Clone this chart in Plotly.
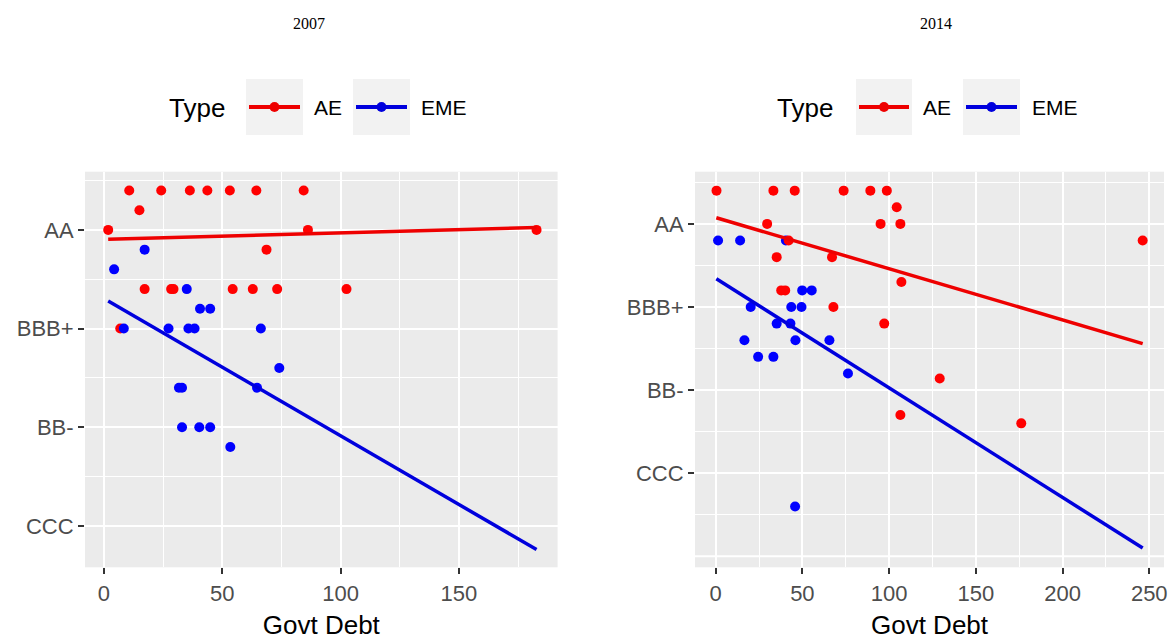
import plotly.graph_objects as go

# ---------------- data (rating notches: AAA=1, AA+=2, AA=3, ... ) ----------------
rating_tickvals = [3, 8, 13, 18]
rating_ticktext = ["AA", "BBB+", "BB-", "CCC"]
panel_titles = ["2007", "2014"]
type_names = ["AE", "EME"]

# 2007 panel
ae07_debt = [1.8, 10.7, 24.2, 36.3, 43.7, 53.2, 64.4, 84.4, 15.0, 86.2, 182.8, 68.7,
             17.2, 28.4, 29.4, 54.4, 62.9, 73.2, 102.5, 6.9]
ae07_rating = [3, 1, 1, 1, 1, 1, 1, 1, 2, 3, 3, 4,
               6, 6, 6, 6, 6, 6, 6, 8]
eme07_debt = [17.2, 4.3, 35.0, 40.6, 44.9, 8.4, 27.3, 35.7, 38.3, 66.3,
              74.1, 31.7, 33.0, 64.7, 33.0, 40.3, 44.9, 53.4]
eme07_rating = [4, 5, 6, 7, 7, 8, 8, 8, 8, 8,
                10, 11, 11, 11, 13, 13, 13, 14]
ae07_fit_debt = [1.8, 182.8]
ae07_fit_rating = [3.47, 2.88]
eme07_fit_debt = [1.8, 182.8]
eme07_fit_rating = [6.6, 19.2]

# 2014 panel
ae14_debt = [0.5, 33.3, 45.6, 73.8, 89.2, 98.7, 29.7, 42.1, 35.2, 67.1, 37.8, 40.1,
             67.9, 104.4, 95.1, 106.5, 246.2, 107.1, 97.2, 129.2, 106.5, 176.2]
ae14_rating = [1, 1, 1, 1, 1, 1, 3, 4, 5, 5, 7, 7,
               8, 2, 3, 3, 4, 6.5, 9, 12.3, 14.5, 15]
eme14_debt = [1.4, 14.1, 40.5, 49.9, 55.4, 20.2, 43.6, 49.5, 35.2, 43.1,
              16.6, 46.0, 65.6, 24.5, 33.3, 76.3, 45.8]
eme14_rating = [4, 4, 4, 7, 7, 8, 8, 8, 9, 9,
                10, 10, 10, 11, 11, 12, 20]
ae14_fit_debt = [0.4, 246.2]
ae14_fit_rating = [2.63, 10.2]
eme14_fit_debt = [0.4, 246.2]
eme14_fit_rating = [6.3, 22.5]

# ---------------- layout constants ----------------
W, H = 1169, 640
PANEL_TOP, PANEL_BOTTOM = 171.7, 567.3
LEFT_X = (85, 557.6)
RIGHT_X = (695, 1164)
RED_PT, BLUE_PT = "#FF0000", "#0000FF"
RED_LN, BLUE_LN = "#EE0000", "#0000DD"
FONT = "Liberation Sans, Arial, sans-serif"


def fx(x):
    return x / W


def fy(y):
    return 1 - y / H


fig = go.Figure()


def add_panel(ae_x, ae_y, eme_x, eme_y, aefx, aefy, emefx, emefy, xa, ya, blue_first):
    pts = [(eme_x, eme_y, BLUE_PT, "EME"), (ae_x, ae_y, RED_PT, "AE")]
    if not blue_first:
        pts = pts[::-1]
    for xs, ys, col, nm in pts:
        fig.add_trace(go.Scatter(x=xs, y=ys, mode="markers", name=nm, showlegend=False,
                                 marker=dict(size=10, color=col, line=dict(width=0)),
                                 xaxis=xa, yaxis=ya))
    for xs, ys, col, nm in [(aefx, aefy, RED_LN, "AE"), (emefx, emefy, BLUE_LN, "EME")]:
        fig.add_trace(go.Scatter(x=xs, y=ys, mode="lines", name=nm, showlegend=False,
                                 line=dict(color=col, width=3.5),
                                 xaxis=xa, yaxis=ya))


add_panel(ae07_debt, ae07_rating, eme07_debt, eme07_rating,
          ae07_fit_debt, ae07_fit_rating, eme07_fit_debt, eme07_fit_rating, "x", "y", False)
add_panel(ae14_debt, ae14_rating, eme14_debt, eme14_rating,
          ae14_fit_debt, ae14_fit_rating, eme14_fit_debt, eme14_fit_rating, "x2", "y2", True)

common_x = dict(
    showgrid=True, gridcolor="white", gridwidth=2, zeroline=False, showline=False,
    ticks="outside", ticklen=6, tickwidth=1.5, tickcolor="#333333",
    tickfont=dict(family=FONT, size=22, color="#4D4D4D"),
    tick0=0, dtick=50,
    minor=dict(dtick=25, tick0=0, showgrid=True, gridcolor="white", gridwidth=1),
    title=dict(text="Govt Debt", font=dict(family=FONT, size=26, color="black"), standoff=14),
    automargin=False,
)
common_y = dict(
    showgrid=True, gridcolor="white", gridwidth=2, zeroline=False, showline=False,
    ticks="outside", ticklen=6, tickwidth=1.5, tickcolor="#333333",
    tickfont=dict(family=FONT, size=22, color="#4D4D4D"),
    tickmode="array", tickvals=rating_tickvals, ticktext=rating_ticktext,
    minor=dict(tickvals=[0.5, 5.5, 10.5, 15.5, 20.5], showgrid=True, gridcolor="white", gridwidth=1),
    automargin=False,
)

ydom = [fy(PANEL_BOTTOM), fy(PANEL_TOP)]
fig.update_layout(
    xaxis=dict(common_x, domain=[fx(LEFT_X[0]), fx(LEFT_X[1])], range=[-8.0, 191.7], anchor="y"),
    yaxis=dict(common_y, domain=ydom, range=[20.1, 0.05], anchor="x"),
    xaxis2=dict(common_x, domain=[fx(RIGHT_X[0]), fx(RIGHT_X[1])], range=[-11.9, 258.5], anchor="y2"),
    yaxis2=dict(common_y, domain=ydom, range=[23.66, -0.14], anchor="x2"),
)

shapes = []
# unlabeled major gridline in 2014 panel
shapes.append(dict(type="line", xref="paper", yref="y2", x0=fx(RIGHT_X[0]), x1=fx(RIGHT_X[1]),
                   y0=23, y1=23, line=dict(color="white", width=2), layer="below"))

annotations = []
for title, cx in zip(panel_titles, [309, 936]):
    annotations.append(dict(text=title, x=fx(cx), y=fy(24), xref="paper", yref="paper",
                            showarrow=False, xanchor="center", yanchor="middle",
                            font=dict(family="Liberation Serif, Times New Roman, serif", size=16, color="black")))

# manual legends (ggplot-style keys)
KEY_TOP, KEY_BOT, KEY_MID = 79, 135, 107
legend_specs = [
    dict(type_x=167, boxes=[(246, 303), (353, 410)], labels_x=[312, 419]),
    dict(type_x=775, boxes=[(856, 912), (963, 1020)], labels_x=[921, 1030]),
]
for spec in legend_specs:
    annotations.append(dict(text="Type", x=fx(spec["type_x"]), y=fy(KEY_MID + 1), xref="paper", yref="paper",
                            showarrow=False, xanchor="left", yanchor="middle",
                            font=dict(family=FONT, size=26, color="black")))
    for (bx0, bx1), lx, nm, col in zip(spec["boxes"], spec["labels_x"], type_names, [RED_LN, BLUE_LN]):
        shapes.append(dict(type="rect", xref="paper", yref="paper", x0=fx(bx0), x1=fx(bx1),
                           y0=fy(KEY_BOT), y1=fy(KEY_TOP), fillcolor="#F2F2F2", line=dict(width=0),
                           layer="above"))
        shapes.append(dict(type="line", xref="paper", yref="paper", x0=fx(bx0 + 3), x1=fx(bx1 - 3),
                           y0=fy(KEY_MID), y1=fy(KEY_MID), line=dict(color=col, width=4),
                           layer="above"))
        cxm = (bx0 + bx1) / 2
        shapes.append(dict(type="circle", xref="paper", yref="paper", x0=fx(cxm - 5), x1=fx(cxm + 5),
                           y0=fy(KEY_MID + 5), y1=fy(KEY_MID - 5), fillcolor=col, line=dict(width=0),
                           layer="above"))
        annotations.append(dict(text=nm, x=fx(lx), y=fy(KEY_MID + 1), xref="paper", yref="paper",
                                showarrow=False, xanchor="left", yanchor="middle",
                                font=dict(family=FONT, size=21, color="black")))

fig.update_layout(
    width=W, height=H, autosize=False,
    margin=dict(l=0, r=0, t=0, b=0),
    plot_bgcolor="#EBEBEB", paper_bgcolor="white",
    showlegend=False,
    shapes=shapes, annotations=annotations,
)

fig.write_html("out.html", config={"displayModeBar": False},
               post_script="document.body.style.margin='0';")
